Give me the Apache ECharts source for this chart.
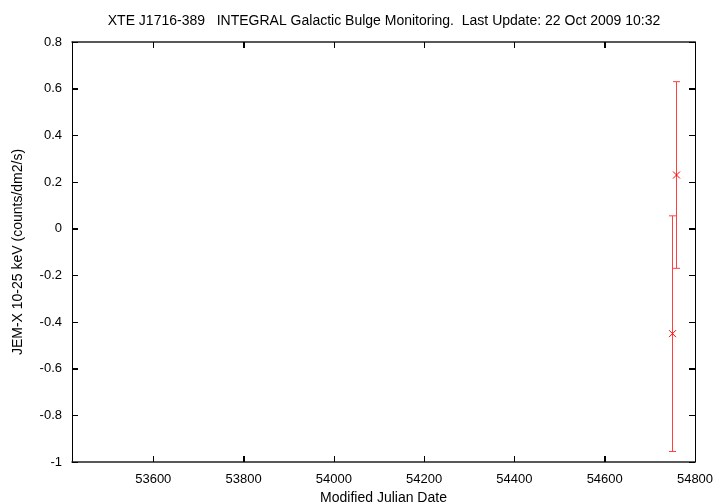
<!DOCTYPE html>
<html><head><meta charset="utf-8">
<script src="https://cdn.jsdelivr.net/npm/echarts@6/dist/echarts.min.js"></script>
<style>html,body{margin:0;padding:0;background:#fff}#c{width:720px;height:504px}</style>
</head><body><div id="c"></div>
<script>
const titleText = 'XTE J1716-389   INTEGRAL Galactic Bulge Monitoring.  Last Update: 22 Oct 2009 10:32';
const xName = 'Modified Julian Date';
const yName = 'JEM-X 10-25 keV (counts/dm2/s)';
const xTicks = [53600, 53800, 54000, 54200, 54400, 54600, 54800];
const yTicks = [-1, -0.8, -0.6, -0.4, -0.2, 0, 0.2, 0.4, 0.6, 0.8];
const xRange = [53420, 54800];
const yRange = [-1, 0.8];
const mjd = [54750, 54758];
const flux = [-0.45, 0.23];
const fluxErr = [0.505, 0.40];

const data = mjd.map((m, i) => [m, flux[i], flux[i] - fluxErr[i], flux[i] + fluxErr[i]]);
const font = 'Liberation Sans, Arial, Helvetica, sans-serif';
const TICK = 6;

function makeX(pos, showLabel) {
  return {
    type: 'value', min: xRange[0], max: xRange[1], position: pos,
    axisLine: {show: true, onZero: false, lineStyle: {color: '#222', width: 1.5}},
    axisTick: {show: true, inside: true, length: TICK, customValues: xTicks, lineStyle: {color: '#000', width: 1}},
    axisLabel: {show: showLabel, customValues: xTicks, margin: 11, fontFamily: font, fontSize: 13, color: '#000',
      formatter: function (v) { return String(v); }},
    splitLine: {show: false}
  };
}
function makeY(pos, showLabel) {
  return {
    type: 'value', min: yRange[0], max: yRange[1], interval: 0.2, position: pos,
    axisLine: {show: true, onZero: false, lineStyle: {color: '#000', width: 1}},
    axisTick: {show: true, inside: true, length: TICK, lineStyle: {color: '#000', width: 1}},
    axisLabel: {show: showLabel, margin: 10, fontFamily: font, fontSize: 13, color: '#000',
      formatter: function (v) { return String(Math.round(v * 10) / 10); }},
    splitLine: {show: false}
  };
}
const x0 = makeX('bottom', true);
x0.name = xName; x0.nameLocation = 'middle'; x0.nameGap = 28;
x0.nameTextStyle = {fontFamily: font, fontSize: 14, color: '#000'};
const y0 = makeY('left', true);
y0.name = yName; y0.nameLocation = 'middle'; y0.nameGap = 47; y0.nameRotate = 90;
y0.nameTextStyle = {fontFamily: font, fontSize: 14, color: '#000'};

const tickStyle = {stroke: '#000', lineWidth: 1};
const chart = echarts.init(document.getElementById('c'));
chart.setOption({
  animation: false,
  title: {text: titleText, left: 379, top: 9, textAlign: 'center',
    textStyle: {fontFamily: font, fontSize: 14, fontWeight: 'normal', color: '#000'}},
  grid: {left: 72, right: 25, top: 42, bottom: 42, containLabel: false, outerBoundsMode: 'none'},
  xAxis: [x0, makeX('top', false)],
  yAxis: [y0, makeY('right', false)],
  series: [{
    type: 'custom', silent: true, clip: false, z: 10,
    data: xTicks.map(v => [v, yRange[0]]),
    renderItem: function (params, api) {
      const b = api.coord([api.value(0), yRange[0]]);
      const t = api.coord([api.value(0), yRange[1]]);
      const xs = Math.round(b[0]) + 0.5;
      return {type: 'group', children: [
        {type: 'line', shape: {x1: xs, y1: b[1], x2: xs, y2: b[1] - TICK}, style: tickStyle},
        {type: 'line', shape: {x1: xs, y1: t[1], x2: xs, y2: t[1] + TICK}, style: tickStyle}
      ]};
    }
  }, {
    type: 'custom', silent: true, clip: false, z: 10,
    data: yTicks.map(v => [xRange[0], v]),
    renderItem: function (params, api) {
      const l = api.coord([xRange[0], api.value(1)]);
      const r = api.coord([xRange[1], api.value(1)]);
      const ys = Math.round(l[1]) + 0.5;
      return {type: 'group', children: [
        {type: 'line', shape: {x1: l[0], y1: ys, x2: l[0] + TICK, y2: ys}, style: tickStyle},
        {type: 'line', shape: {x1: r[0], y1: ys, x2: r[0] - TICK, y2: ys}, style: tickStyle}
      ]};
    }
  }, {
    type: 'custom',
    data: data,
    renderItem: function (params, api) {
      const x = api.value(0), y = api.value(1), lo = api.value(2), hi = api.value(3);
      const p = api.coord([x, y]);
      const pl = api.coord([x, lo]);
      const ph = api.coord([x, hi]);
      const cap = 3.5, m = 3.5;
      const style = {stroke: '#ff4040', lineWidth: 1, fill: null};
      const xs = Math.round(p[0]) + 0.5;
      return {
        type: 'group',
        children: [
          {type: 'line', shape: {x1: xs, y1: pl[1], x2: xs, y2: ph[1]}, style: style},
          {type: 'line', shape: {x1: xs - cap, y1: pl[1], x2: xs + cap, y2: pl[1]}, style: style},
          {type: 'line', shape: {x1: xs - cap, y1: ph[1], x2: xs + cap, y2: ph[1]}, style: style},
          {type: 'line', shape: {x1: xs - m, y1: p[1] - m, x2: xs + m, y2: p[1] + m}, style: {stroke: '#ff0000', lineWidth: 1}},
          {type: 'line', shape: {x1: xs - m, y1: p[1] + m, x2: xs + m, y2: p[1] - m}, style: {stroke: '#ff0000', lineWidth: 1}}
        ]
      };
    }
  }]
});
</script></body></html>
